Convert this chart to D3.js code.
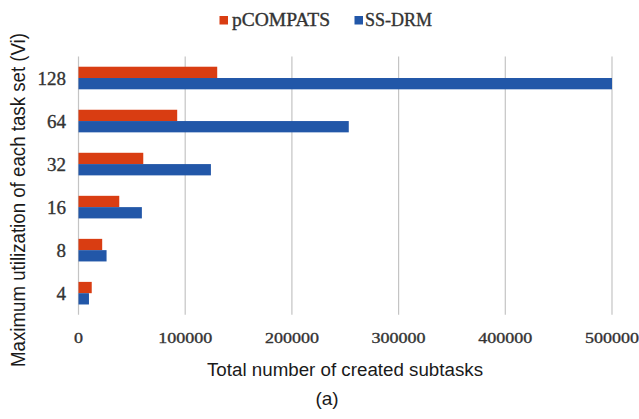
<!DOCTYPE html>
<html>
<head>
<meta charset="utf-8">
<script src="https://cdn.jsdelivr.net/npm/d3@7"></script>
<style>
  html, body { margin: 0; padding: 0; background: #fff; }
  svg { display: block; }
</style>
</head>
<body>
<svg id="chart" width="639" height="419"></svg>
<script>
// Maximum utilization of each task set (top to bottom)
const categories = ["128", "64", "32", "16", "8", "4"];
const seriesNames = ["pCOMPATS", "SS-DRM"];
// Total number of created subtasks per utilization level
const pcompatsValues = [130000, 92500, 60700, 38200, 22200, 12400];
const ssdrmValues = [500000, 253300, 124100, 59400, 26300, 9800];
const xTicks = [0, 100000, 200000, 300000, 400000, 500000];

const colors = { "pCOMPATS": "#D93D12", "SS-DRM": "#2257A8" };

const rows = categories.map((c, i) => ({
  cat: c,
  values: [
    { series: "pCOMPATS", value: pcompatsValues[i] },
    { series: "SS-DRM", value: ssdrmValues[i] }
  ]
}));

const svg = d3.select("#chart");
const plot = { left: 78.5, right: 612, top: 56.5, bottom: 314.7 };

const x = d3.scaleLinear().domain([0, 500000]).range([plot.left, plot.right]);
const y = d3.scaleBand().domain(categories).range([plot.top, plot.bottom])
  .paddingInner(0.475).paddingOuter(0.2375);
const ySub = d3.scaleBand().domain(seriesNames).range([0, y.bandwidth()]);

const serif = "'Liberation Serif', 'Times New Roman', serif";
const sans = "'Liberation Sans', Arial, sans-serif";

// stretch helper: widen text horizontally by a factor
function stretch(sel, k) {
  sel.each(function () {
    const len = this.getComputedTextLength();
    d3.select(this).attr("textLength", len * k).attr("lengthAdjust", "spacingAndGlyphs");
  });
}

// vertical gridlines
svg.append("g")
  .selectAll("line")
  .data(xTicks)
  .join("line")
  .attr("x1", d => x(d)).attr("x2", d => x(d))
  .attr("y1", plot.top).attr("y2", plot.bottom)
  .attr("stroke", "#c4c4c4")
  .attr("stroke-width", 1.2);

// bars
const groups = svg.append("g")
  .selectAll("g")
  .data(rows)
  .join("g")
  .attr("transform", d => `translate(0,${y(d.cat)})`);

groups.selectAll("rect")
  .data(d => d.values)
  .join("rect")
  .attr("x", x(0))
  .attr("y", d => ySub(d.series))
  .attr("width", d => x(d.value) - x(0))
  .attr("height", ySub.bandwidth())
  .attr("fill", d => colors[d.series]);

// x axis tick labels
const xLab = svg.append("g")
  .selectAll("text")
  .data(xTicks)
  .join("text")
  .attr("x", d => x(d))
  .attr("y", 343)
  .attr("text-anchor", "middle")
  .attr("font-family", serif)
  .attr("font-size", 15)
  .attr("fill", "#333")
  .attr("stroke", "#333").attr("stroke-width", 0.35)
  .text(d => d3.format("d")(d));
stretch(xLab, 1.2);

// y axis tick labels
svg.append("g")
  .selectAll("text")
  .data(categories)
  .join("text")
  .attr("x", 66)
  .attr("y", d => y(d) + y.bandwidth() / 2)
  .attr("dy", "0.35em")
  .attr("text-anchor", "end")
  .attr("font-family", serif)
  .attr("font-size", 19)
  .attr("fill", "#333")
  .attr("stroke", "#333").attr("stroke-width", 0.35)
  .text(d => d);

// axis titles
svg.append("text")
  .attr("x", 345).attr("y", 376)
  .attr("text-anchor", "middle")
  .attr("font-family", sans)
  .attr("font-size", 18)
  .attr("fill", "#1a1a1a")
  .text("Total number of created subtasks")
  .attr("textLength", 276).attr("lengthAdjust", "spacingAndGlyphs");

svg.append("text")
  .attr("transform", "translate(25,200) rotate(-90)")
  .attr("text-anchor", "middle")
  .attr("font-family", sans)
  .attr("font-size", 20)
  .attr("fill", "#1a1a1a")
  .text("Maximum utilization of each task set (Vi)")
  .attr("textLength", 334).attr("lengthAdjust", "spacingAndGlyphs");

svg.append("text")
  .attr("x", 327).attr("y", 405)
  .attr("text-anchor", "middle")
  .attr("font-family", sans)
  .attr("font-size", 19)
  .attr("fill", "#1a1a1a")
  .text("(a)");

// legend
const legendItems = [
  { name: "pCOMPATS", sx: 219.5, tx: 232, tw: 98 },
  { name: "SS-DRM", sx: 354.5, tx: 365, tw: 67 }
];
const lg = svg.append("g").selectAll("g").data(legendItems).join("g");
lg.append("rect")
  .attr("x", d => d.sx).attr("y", 16)
  .attr("width", 8.5).attr("height", 8.5)
  .attr("fill", d => colors[d.name]);
lg.append("text")
  .attr("x", d => d.tx).attr("y", 26)
  .attr("font-family", serif)
  .attr("font-size", 18)
  .attr("fill", "#333")
  .attr("stroke", "#333").attr("stroke-width", 0.35)
  .text(d => d.name)
  .attr("textLength", d => d.tw).attr("lengthAdjust", "spacingAndGlyphs");
</script>
</body>
</html>
